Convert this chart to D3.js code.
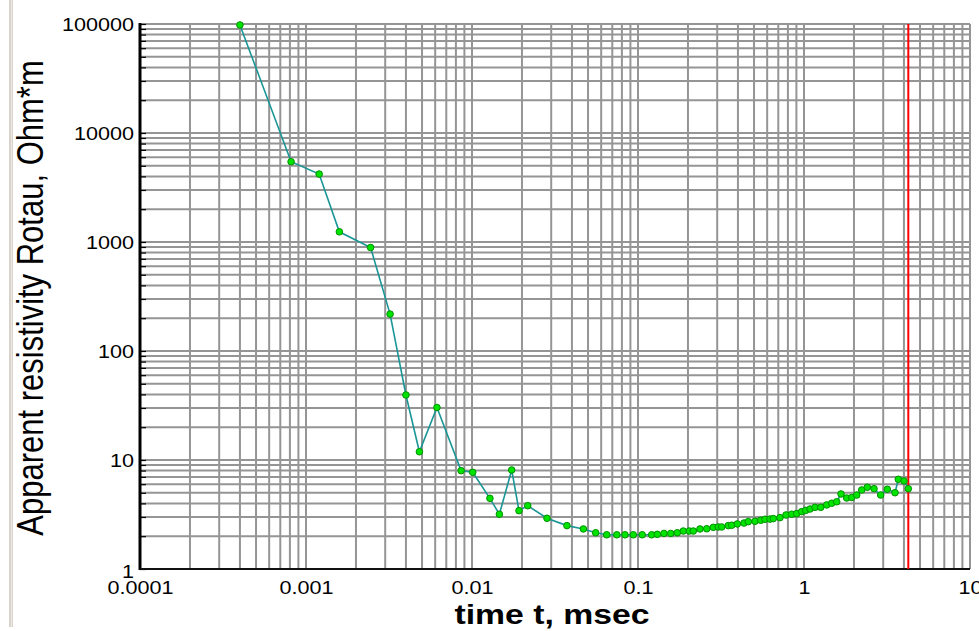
<!DOCTYPE html>
<html><head><meta charset="utf-8">
<script src="https://cdn.jsdelivr.net/npm/d3@7"></script>
<style>html,body{margin:0;padding:0;background:#fff;overflow:hidden}</style>
</head><body>
<svg id="chart" width="979" height="631"></svg>
<script>
const times = [4.0e-4, 8.13e-4, 1.20e-3, 1.588e-3, 2.45e-3, 3.21e-3, 4.0e-3, 4.82e-3, 6.15e-3, 8.6e-3,
  0.0101, 0.01282, 0.01462, 0.01734, 0.01919, 0.02166, 0.0283, 0.0373, 0.0469, 0.0556,
  0.0648, 0.0745, 0.0835, 0.0937, 0.106, 0.1209, 0.1307, 0.1434, 0.1574, 0.1725,
  0.1875, 0.2037, 0.2153, 0.2363, 0.2594, 0.2841, 0.3045, 0.3192, 0.3499, 0.3668,
  0.3965, 0.4351, 0.4618, 0.5068, 0.5485, 0.5822, 0.624, 0.6533, 0.7167, 0.7789,
  0.8431, 0.9036, 0.9685, 1.024, 1.087, 1.165, 1.261, 1.370, 1.469, 1.574,
  1.671, 1.808, 1.938, 2.078, 2.227, 2.406, 2.641, 2.897, 3.176, 3.534,
  3.700, 4.003, 4.250];
const rhoValues = [98000, 5450, 4200, 1240, 890, 218, 39.5, 11.9, 30.3, 7.98,
  7.71, 4.45, 3.18, 8.10, 3.43, 3.81, 2.92, 2.50, 2.33, 2.15,
  2.06, 2.06, 2.06, 2.06, 2.06, 2.06, 2.08, 2.12, 2.12, 2.15,
  2.23, 2.23, 2.23, 2.33, 2.34, 2.41, 2.43, 2.43, 2.50, 2.52,
  2.59, 2.64, 2.72, 2.74, 2.80, 2.86, 2.87, 2.90, 2.96, 3.13,
  3.18, 3.22, 3.36, 3.45, 3.55, 3.68, 3.68, 3.87, 4.01, 4.14,
  4.88, 4.48, 4.53, 4.77, 5.31, 5.62, 5.45, 4.77, 5.39, 5.01,
  6.65, 6.42, 5.45];
const markerTime = [4.25];
const xTickValues = [1e-4, 1e-3, 1e-2, 1e-1, 1, 10];
const xTickLabels = ["0.0001", "0.001", "0.01", "0.1", "1", "10"];
const yTickValues = [1, 10, 100, 1000, 10000, 100000];
const yTickLabels = ["1", "10", "100", "1000", "10000", "100000"];
const xTitle = "time t, msec";
const yTitle = "Apparent resistivity Rotau, Ohm*m";

const svg = d3.select("#chart");
const x = d3.scaleLog().domain([1e-4, 10]).range([140, 970]);
const y = d3.scaleLog().domain([1, 1e5]).range([569, 24]);

// window border strip
svg.append("rect").attr("x", 9).attr("y", 0).attr("width", 4).attr("height", 627).attr("fill", "#d8d4cc");
svg.append("rect").attr("x", 11).attr("y", 0).attr("width", 1).attr("height", 627).attr("fill", "#ece9e2");

// grid
const grid = svg.append("g").attr("stroke", "#959595").attr("stroke-width", 2);
grid.selectAll("line.v").data(x.ticks()).join("line")
  .attr("x1", d => x(d)).attr("x2", d => x(d)).attr("y1", y(1e5)).attr("y2", y(1));
grid.selectAll("line.h").data(y.ticks()).join("line")
  .attr("x1", x(1e-4)).attr("x2", x(10)).attr("y1", d => y(d)).attr("y2", d => y(d));

// left axis ticks (inside)
const leftAxis = svg.append("g").attr("transform", `translate(${x(1e-4)},0)`)
  .call(d3.axisLeft(y).tickValues(y.ticks()).tickSize(-6).tickFormat(""));
leftAxis.selectAll("line").attr("stroke", "#000").attr("stroke-width", 1.2);
leftAxis.select(".domain").remove();

// axis lines
svg.append("line").attr("x1", x(1e-4)).attr("x2", x(1e-4)).attr("y1", y(1e5) - 1).attr("y2", y(1) + 1)
  .attr("stroke", "#000").attr("stroke-width", 3);
svg.append("line").attr("x1", x(1e-4)).attr("x2", x(10)).attr("y1", y(1)).attr("y2", y(1))
  .attr("stroke", "#111").attr("stroke-width", 2.2);

// tick labels
const font = "'Liberation Sans', Arial, sans-serif";
const bx = svg.append("g").attr("transform", `translate(0,${y(1)})`)
  .call(d3.axisBottom(x).tickValues(xTickValues).tickSize(0).tickFormat((d, i) => xTickLabels[i]));
bx.select(".domain").remove();
bx.selectAll("text").attr("x", 0).attr("y", 25).attr("dy", 0).attr("font-family", font).attr("font-size", 18)
  .attr("fill", "#000").attr("transform", "scale(1.2,1)");

const ly = svg.append("g").attr("transform", `translate(${x(1e-4) - 6},0)`)
  .call(d3.axisLeft(y).tickValues(yTickValues).tickSize(0).tickPadding(0).tickFormat((d, i) => yTickLabels[i]));
ly.select(".domain").remove();
ly.selectAll("text").attr("x", 0).attr("dy", "0.36em").attr("font-family", font).attr("font-size", 18)
  .attr("fill", "#000").attr("text-anchor", "end").attr("transform", "scale(1.2,1)");
ly.selectAll(".tick").filter(d => d === 1).select("text").attr("dy", "0.45em");

// red marker line
svg.selectAll("line.marker").data(markerTime).join("line")
  .attr("x1", d => x(d)).attr("x2", d => x(d)).attr("y1", y(1e5)).attr("y2", y(1))
  .attr("stroke", "#ff0000").attr("stroke-width", 2);

// data line
const pts = times.map((t, i) => [t, rhoValues[i]]);
svg.append("path").datum(pts)
  .attr("fill", "none").attr("stroke", "#1a9696").attr("stroke-width", 1.6)
  .attr("d", d3.line().x(d => x(d[0])).y(d => y(d[1])));
svg.append("g").selectAll("circle").data(pts).join("circle")
  .attr("cx", d => x(d[0])).attr("cy", d => y(d[1])).attr("r", 3.3)
  .attr("fill", "#00e400").attr("stroke", "#009000").attr("stroke-width", 1);

// titles
svg.append("text").attr("transform", "translate(552,624) scale(1.25,1)")
  .attr("text-anchor", "middle").attr("font-family", font).attr("font-weight", "bold")
  .attr("font-size", 27).attr("fill", "#000").text(xTitle);
svg.append("text").attr("transform", "translate(43,298) scale(1.2,1) rotate(-90)")
  .attr("text-anchor", "middle").attr("font-family", font)
  .attr("font-size", 31).attr("fill", "#000").text(yTitle);
</script>
</body></html>
